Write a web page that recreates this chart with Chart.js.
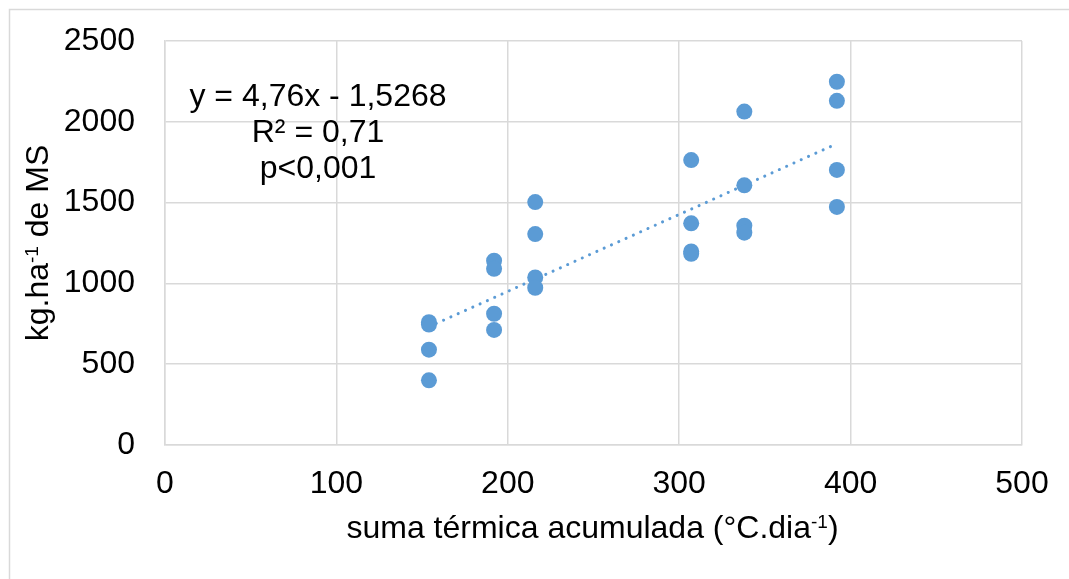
<!doctype html>
<html>

<head>
    <title>Scatter - suma termica</title>
    <script src="https://cdn.jsdelivr.net/npm/chart.js@4"></script>
	<style>
	body { margin: 0; background: #fff; }
	canvas {
		-moz-user-select: none;
		-webkit-user-select: none;
		-ms-user-select: none;
	}
	</style>
</head>

<body>
	<canvas id="chart-area" width="1069" height="579"></canvas>
	<script>
		// data
		var xValues = [154, 154, 154, 154, 192, 192, 192, 192, 216, 216, 216, 216,
			307, 307, 307, 307, 338, 338, 338, 338, 392, 392, 392, 392];
		var yValues = [760, 745, 590, 400, 1140, 1090, 812, 712, 1503, 1305, 1037, 973,
			1763, 1372, 1198, 1183, 2063, 1607, 1357, 1314, 2248, 2130, 1702, 1473];
		var xTicks = [0, 100, 200, 300, 400, 500];
		var yTicks = [0, 500, 1000, 1500, 2000, 2500];

		// trend line from the printed equation
		var slope = 4.76;
		var intercept = -1.5268;
		var trendX = [154, 392];

		var eqLines = ['y = 4,76x - 1,5268', 'R\u00B2 = 0,71', 'p<0,001'];

		var FONT = '"Liberation Sans", Arial, sans-serif';
		var SIZE = 32;
		var blue = '#5B9BD5';
		var gridColor = '#d9d9d9';

		var points = xValues.map(function (x, i) { return { x: x, y: yValues[i] }; });
		var trend = trendX.map(function (x) { return { x: x, y: slope * x + intercept }; });

		function drawParts(ctx, parts, size, supSize, draw) {
			var w = 0;
			parts.forEach(function (p) {
				ctx.font = (p.sup ? supSize : size) + 'px ' + FONT;
				if (draw) ctx.fillText(p.t, w, p.sup ? -10 : 0);
				w += ctx.measureText(p.t).width;
			});
			return w;
		}

		function partsText(ctx, parts, cx, baseY, rotate) {
			ctx.save();
			ctx.fillStyle = '#000';
			ctx.textBaseline = 'alphabetic';
			ctx.textAlign = 'left';
			var w = drawParts(ctx, parts, SIZE, 19, false);
			if (rotate) {
				ctx.translate(baseY, cx);
				ctx.rotate(-Math.PI / 2);
			} else {
				ctx.translate(cx, baseY);
			}
			ctx.translate(-w / 2, 0);
			drawParts(ctx, parts, SIZE, 19, true);
			ctx.restore();
		}

		var textPlugin = {
			id: 'texts',
			beforeDraw: function (chart) {
				var ctx = chart.ctx;
				ctx.save();
				ctx.fillStyle = '#fff';
				ctx.fillRect(0, 0, chart.width, chart.height);
				ctx.strokeStyle = gridColor;
				ctx.lineWidth = 1.5;
				ctx.strokeRect(9.5, 9.5, 1200, 1000);
				ctx.restore();
			},
			afterDraw: function (chart) {
				var ctx = chart.ctx;
				var area = chart.chartArea;
				var cx = (area.left + area.right) / 2;
				var cy = (area.top + area.bottom) / 2;
				partsText(ctx, [{ t: 'suma t\u00E9rmica acumulada (\u00B0C.dia' }, { t: '-1', sup: true }, { t: ')' }], cx - 1, 538, false);
				partsText(ctx, [{ t: 'kg.ha' }, { t: '-1', sup: true }, { t: ' de MS' }], cy, 48, true);

				ctx.save();
				ctx.fillStyle = '#000';
				ctx.font = SIZE + 'px ' + FONT;
				ctx.textAlign = 'center';
				ctx.textBaseline = 'alphabetic';
				eqLines.forEach(function (line, i) {
					ctx.fillText(line, 318, 106 + i * 36);
				});
				ctx.restore();
			}
		};

		function plain(v) { return String(v); }

		// fixed axis sizes, no extra label padding around the plot
		function fixSize(w, h) {
			return function (scale) {
				if (w) scale.width = w;
				if (h) scale.height = h;
				scale.paddingTop = 0;
				scale.paddingBottom = 0;
				scale.paddingLeft = 0;
				scale.paddingRight = 0;
			};
		}

		var ctx = document.getElementById('chart-area').getContext('2d');
		window.myScatter = new Chart(ctx, {
			type: 'scatter',
			data: {
				datasets: [{
					label: 'datos',
					data: points,
					backgroundColor: blue,
					borderWidth: 0,
					pointRadius: 8,
					pointHoverRadius: 8
				}, {
					type: 'line',
					label: 'tendencia',
					data: trend,
					borderColor: blue,
					borderWidth: 3,
					borderDash: [0.1, 7.9],
					borderCapStyle: 'round',
					pointRadius: 0,
					fill: false
				}]
			},
			options: {
				responsive: false,
				animation: false,
				devicePixelRatio: 1,
				layout: { padding: { left: 0, right: 47, top: 41, bottom: 0 } },
				plugins: {
					legend: { display: false },
					title: { display: false },
					tooltip: { enabled: false }
				},
				scales: {
					x: {
						type: 'linear',
						min: 0,
						max: 500,
						afterFit: fixSize(0, 134),
						afterBuildTicks: function (scale) {
							scale.ticks = xTicks.map(function (v) { return { value: v }; });
						},
						grid: { color: gridColor, lineWidth: 1.5, drawTicks: false },
						border: { color: gridColor, width: 1.5 },
						ticks: { color: '#000', padding: 20, callback: plain, font: { size: SIZE, family: FONT } }
					},
					y: {
						type: 'linear',
						min: 0,
						max: 2500,
						afterFit: fixSize(165, 0),
						afterBuildTicks: function (scale) {
							scale.ticks = yTicks.map(function (v) { return { value: v }; });
						},
						grid: { color: gridColor, lineWidth: 1.5, drawTicks: false },
						border: { color: gridColor, width: 1.5 },
						ticks: { color: '#000', padding: 30, callback: plain, font: { size: SIZE, family: FONT } }
					}
				}
			},
			plugins: [textPlugin]
		});
	</script>
</body>

</html>
